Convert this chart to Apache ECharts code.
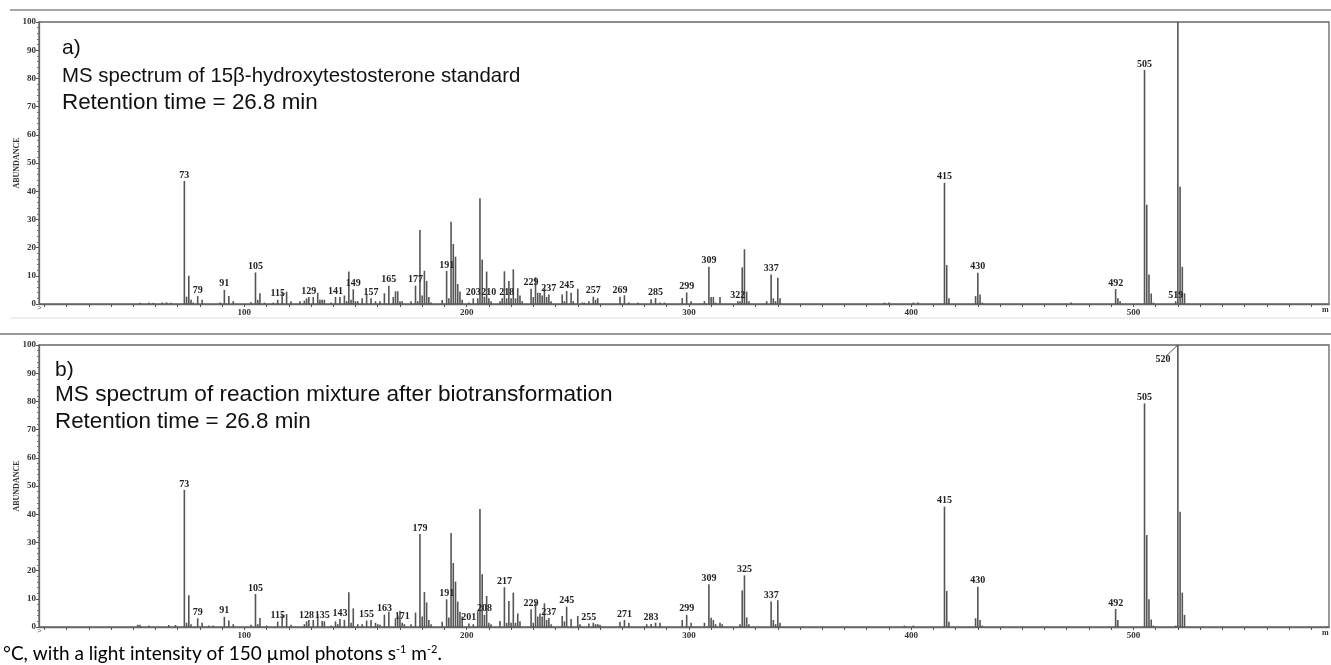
<!DOCTYPE html>
<html><head><meta charset="utf-8">
<script src="https://cdn.jsdelivr.net/npm/echarts@6/dist/echarts.min.js"></script>
<style>html,body{margin:0;padding:0;background:#fff}#c{width:1331px;height:665px}</style>
</head><body><div id="c"></div>
<script>
// ---- Panel a) : 15β-hydroxytestosterone standard ----
const mzA = [53,57,59,63,65,67,73,74,75,76,77,79,81,89,91,93,95,103,105,106,107,109,113,115,117,119,121,125,127,128,129,131,133,134,135,136,139,141,143,145,146,147,148,149,150,151,153,155,157,159,161,163,165,167,168,169,170,171,175,177,178,179,180,181,182,183,184,189,191,192,193,194,195,196,197,198,201,203,205,206,207,208,209,210,211,215,216,217,218,219,220,221,222,223,224,225,229,230,231,232,233,234,235,236,237,238,243,244,245,247,248,250,252,253,255,257,258,259,269,271,273,277,283,285,287,289,297,299,301,307,309,310,311,312,314,322,323,324,325,326,327,335,337,338,339,340,341,388,390,401,403,415,416,417,429,430,431,432,472,492,493,494,505,506,507,508,509,519,520,521,522,523];
const intA = [0.4,0.5,0.4,0.5,0.6,0.4,43.6,2.6,10.0,1.5,0.5,2.8,1.5,0.5,5.0,2.8,1.0,0.6,11.2,1.5,3.8,0.5,0.5,1.5,4.4,4.4,1.0,1.0,1.2,2.0,2.5,2.5,4.0,1.5,1.5,1.5,0.5,2.5,2.5,3.0,1.0,11.5,1.5,5.2,1.0,1.0,2.0,3.5,2.0,1.0,1.0,3.8,6.5,2.5,4.5,4.5,1.0,1.0,1.0,6.5,1.0,26.2,3.0,11.8,8.2,2.5,0.5,1.4,11.7,2.0,29.2,21.3,16.8,7.1,4.4,1.5,0.5,2.0,2.0,37.5,15.8,2.6,11.5,2.0,1.0,1.0,2.0,11.6,2.0,8.2,2.0,12.3,2.0,5.6,3.0,1.0,5.4,2.5,9.5,4.0,4.0,3.0,5.6,2.5,3.4,1.0,3.4,1.0,4.6,4.0,1.0,5.4,0.5,0.5,1.0,2.6,1.5,2.1,2.6,3.1,0.5,0.5,1.7,2.1,0.5,0.5,2.1,4.1,1.0,1.0,13.2,2.5,2.5,0.5,2.5,1.0,1.0,13.0,19.4,4.4,1.0,1.0,10.5,2.0,1.0,9.3,2.0,0.5,0.5,0.5,0.5,43.0,13.8,2.0,2.8,11.1,3.4,0.5,0.5,5.3,2.0,1.0,83.0,35.2,10.5,3.7,0.5,1.0,100,41.6,13.2,3.8];
const labelsA = [73,79,91,105,115,129,141,149,157,165,177,191,203,210,218,229,237,245,257,269,285,299,309,322,337,415,430,492,505,519];

// ---- Panel b) : reaction mixture after biotransformation ----
const mzB = [52,53,57,66,69,73,74,75,76,79,81,84,86,91,93,95,103,105,106,107,110,115,117,119,121,127,128,129,131,133,135,136,139,141,142,143,145,147,148,149,151,153,155,157,159,160,161,163,165,168,169,170,171,172,175,177,179,180,181,182,183,184,189,191,192,193,194,195,196,197,198,201,203,205,206,207,208,209,210,211,215,217,218,219,220,221,222,223,224,229,230,231,232,233,234,235,236,237,238,243,244,245,247,250,251,255,257,258,259,260,269,271,273,281,283,285,287,297,299,301,307,309,310,311,312,314,315,323,324,325,326,327,337,338,339,340,341,397,401,415,416,417,429,430,431,432,492,493,505,506,507,508,509,519,520,521,522,523];
const intB = [0.8,0.8,0.5,0.7,0.7,48.6,1.5,11.3,1.0,3.1,1.5,0.5,0.5,3.6,2.3,1.0,0.8,11.7,1.0,3.2,0.5,1.9,4.6,4.6,0.8,1.0,2.0,2.5,2.5,4.6,2.1,2.0,0.5,2.0,1.0,2.8,2.5,12.3,1.5,6.6,1.0,1.0,2.3,2.5,1.5,1.0,0.8,4.4,5.4,3.0,4.0,5.8,1.5,1.0,1.0,5.1,33.0,3.7,12.4,8.7,2.5,1.0,1.9,9.8,3.4,33.3,22.7,16.1,9.0,5.4,3.7,1.2,1.0,5.6,41.8,18.7,4.3,11.0,1.5,1.0,2.1,14.1,1.5,9.2,1.5,12.2,1.5,4.8,2.0,6.3,1.5,9.0,3.7,4.8,3.7,8.4,2.5,3.2,1.0,3.9,2.0,7.2,2.8,3.9,1.0,1.2,1.5,1.0,1.0,0.8,1.9,2.5,1.5,1.0,1.1,1.5,1.5,2.5,4.3,1.5,1.5,15.2,3.3,2.5,1.0,1.5,1.0,1.0,13.0,18.3,3.4,1.0,9.0,2.5,1.0,9.5,1.5,0.5,0.5,42.7,12.8,1.9,3.1,14.3,2.5,0.5,6.4,2.5,79.3,32.6,9.8,2.7,0.5,0.5,100,40.9,12.2,4.3];
const labelsB = [73,79,91,105,115,128,135,143,155,163,171,179,191,201,208,217,229,237,245,255,271,283,299,309,325,337,415,430,492,505];
const basePeakLabelB = '520';
const basePeakLeaderB = [[514.6, 96.0], [520, 100]];

// ---- Axes ----
const yTickLabels = [0,10,20,30,40,50,60,70,80,90,100];
const xLabelValues = [100,200,300,400,500];
const xTickValues = [10,20,30,40,50,60,70,80,90,100,110,120,130,140,150,160,170,180,190,200,210,220,230,240,250,260,270,280,290,300,310,320,330,340,350,360,370,380,390,400,410,420,430,440,450,460,470,480,490,500,510,520,530,540,550,560,570,580];
const yAxisName = 'ABUNDANCE';

// ---- Texts ----
const textA = ['a)', 'MS spectrum of 15β-hydroxytestosterone standard', 'Retention time = 26.8 min'];
const textB = ['b)', 'MS spectrum of reaction mixture after biotransformation', 'Retention time = 26.8 min'];
const caption = '{n|°C, with a light intensity of 150 µmol photons s}{s|-1}{n| m}{s|-2}{n|.}';

const serif = '"Liberation Serif", "DejaVu Serif", serif';
const GREY = '#555';

function buildData(mz, ints, labels) {
  return mz.map((m, i) => {
    const item = { value: [m, ints[i]] };
    if (labels.indexOf(m) >= 0) item.label = { show: true, formatter: String(m) };
    return item;
  });
}

function xAxis(gi) {
  return {
    type: 'value', gridIndex: gi, min: 7.6, max: 588,
    axisLine: { show: true, onZero: false, lineStyle: { color: '#666', width: 1.3 } },
    axisTick: { show: true, length: 3, customValues: xTickValues, lineStyle: { color: '#555', width: 1 } },
    axisLabel: { customValues: xLabelValues, margin: 4, fontFamily: serif, fontWeight: 'bold', fontSize: 9, color: '#333' },
    splitLine: { show: false }
  };
}
function yAxis(gi) {
  return {
    type: 'value', gridIndex: gi, min: 0, max: 100, interval: 10,
    name: yAxisName, nameLocation: 'middle', nameGap: 18, nameMoveOverlap: false,
    nameTextStyle: { fontFamily: serif, fontWeight: 'bold', fontSize: 8, color: '#333' },
    axisLine: { show: true, lineStyle: { color: '#666', width: 1.3 } },
    axisTick: { show: true, length: 3, lineStyle: { color: '#555' } },
    minorTick: { show: true, splitNumber: 5, length: 2, lineStyle: { color: '#777' } },
    axisLabel: { margin: 3, fontFamily: serif, fontWeight: 'bold', fontSize: 9, color: '#333',
      formatter: v => (yTickLabels.indexOf(v) >= 0 ? String(v) : '') },
    splitLine: { show: false }
  };
}
function barSeries(gi, data) {
  return {
    type: 'bar', xAxisIndex: gi, yAxisIndex: gi, data: data,
    barWidth: 1.6, silent: true, animation: false,
    itemStyle: { color: GREY },
    label: { show: false, position: 'top', distance: 1, fontFamily: serif, fontWeight: 'bold', fontSize: 10, color: '#222' }
  };
}

function annot(lines, x, ys, sizes) {
  return lines.map((t, i) => ({
    type: 'text', x: x, y: ys[i],
    style: { text: t, font: sizes[i] + 'px "Liberation Sans", Arial, sans-serif', fill: '#111', verticalAlign: 'middle' }
  }));
}

const chart = echarts.init(document.getElementById('c'), null, { renderer: 'canvas' });
const sB = barSeries(1, buildData(mzB, intB, labelsB));
sB.markLine = {
  silent: true, symbol: ['none', 'none'], animation: false,
  lineStyle: { color: '#555', width: 1, type: 'solid' },
  label: { show: true, position: 'start', formatter: basePeakLabelB, distance: 4, fontFamily: serif, fontWeight: 'bold', fontSize: 10, color: '#222' },
  data: [[{ coord: basePeakLeaderB[0] }, { coord: basePeakLeaderB[1] }]]
};

chart.setOption({
  animation: false,
  backgroundColor: '#fff',
  grid: [
    { left: 39, right: 2, top: 22, height: 282, show: true, borderColor: '#666', borderWidth: 1.3, backgroundColor: 'transparent' },
    { left: 39, right: 2, top: 345, height: 282, show: true, borderColor: '#666', borderWidth: 1.3, backgroundColor: 'transparent' }
  ],
  xAxis: [xAxis(0), xAxis(1)],
  yAxis: [yAxis(0), yAxis(1)],
  series: [barSeries(0, buildData(mzA, intA, labelsA)), sB],
  graphic: [
    { type: 'line', shape: { x1: 10, y1: 10, x2: 1331, y2: 10 }, style: { stroke: '#888', lineWidth: 1.5 } },
    { type: 'line', shape: { x1: 10, y1: 318, x2: 1331, y2: 318 }, style: { stroke: '#ddd', lineWidth: 1 } },
    { type: 'line', shape: { x1: 0, y1: 334, x2: 1331, y2: 334 }, style: { stroke: '#777', lineWidth: 1.5 } },
    { type: 'text', x: 37, y: 308, style: { text: '>', font: '8px sans-serif', fill: '#666', verticalAlign: 'middle' } },
    { type: 'text', x: 37, y: 631, style: { text: '>', font: '8px sans-serif', fill: '#666', verticalAlign: 'middle' } },
    { type: 'text', x: 1322, y: 310, style: { text: 'm', font: 'bold 8px ' + serif, fill: '#333', verticalAlign: 'middle' } },
    { type: 'text', x: 1322, y: 633, style: { text: 'm', font: 'bold 8px ' + serif, fill: '#333', verticalAlign: 'middle' } },
    ...annot(textA, 62, [48, 76, 103], [21, 20.4, 22.4]),
    ...annot(textB, 55, [370, 395, 422], [21, 22.6, 22.4]),
    {
      type: 'text', x: 3, y: 654,
      style: {
        text: caption,
        verticalAlign: 'middle',
        rich: {
          n: { fontFamily: 'Lato, "Open Sans", sans-serif', fontSize: 19, color: '#111', lineHeight: 21 },
          s: { fontFamily: 'Lato, "Open Sans", sans-serif', fontSize: 11, color: '#111', lineHeight: 21, verticalAlign: 'top', padding: [0, 0, 7, 0] }
        }
      }
    }
  ]
});
</script></body></html>
